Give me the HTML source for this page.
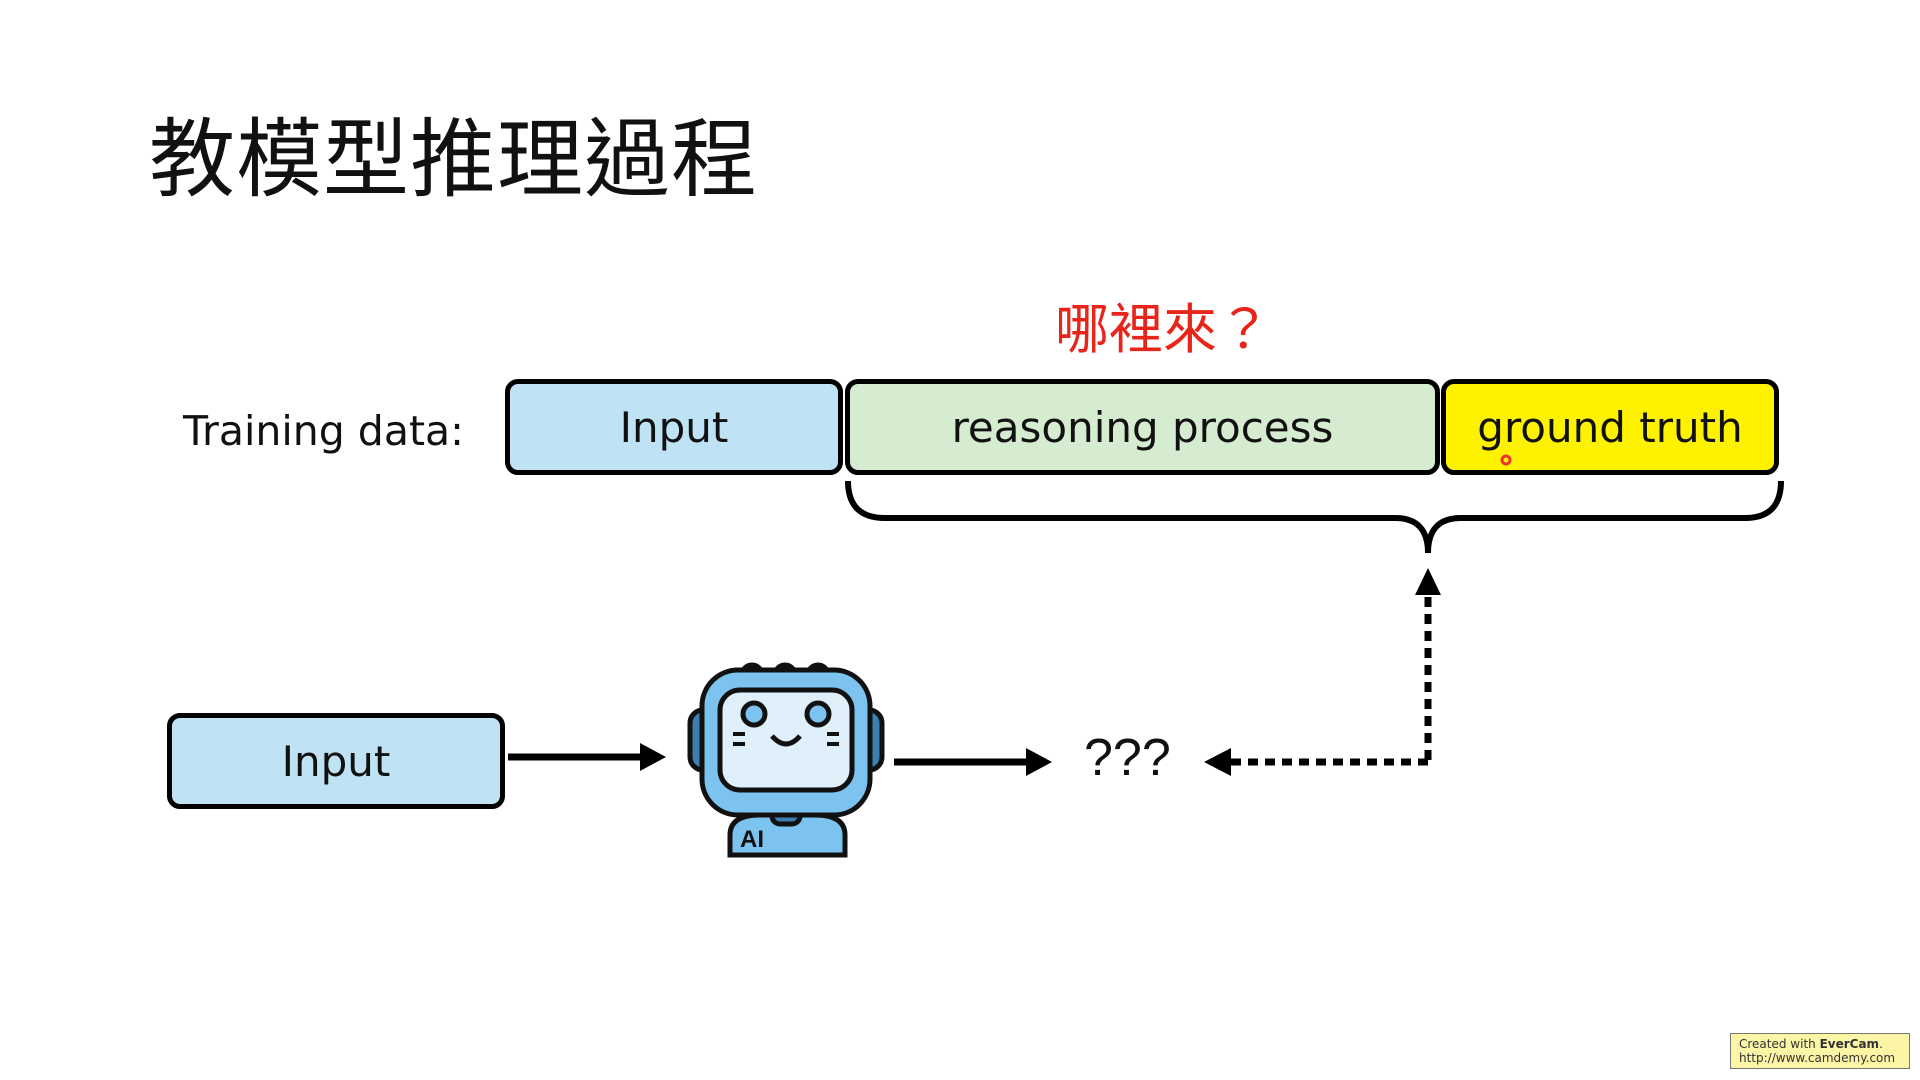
<!DOCTYPE html>
<html><head><meta charset="utf-8"><style>
body{margin:0;width:1920px;height:1080px;background:#fff;position:relative;overflow:hidden;font-family:"Liberation Sans","Noto Sans CJK TC",sans-serif}
.t{position:absolute;white-space:nowrap}
.box{position:absolute;box-sizing:border-box;border:5px solid #000;border-radius:13px;display:flex;align-items:center;justify-content:center;font-size:42px;color:#111;font-family:"DejaVu Sans","Liberation Sans",sans-serif}
</style></head><body>
<div class="t" style="left:149px;top:89px;font-size:86px;font-family:'Noto Sans CJK TC',sans-serif;color:#111;letter-spacing:1px">教模型推理過程</div>
<div class="t" style="left:1055px;top:285px;font-size:54px;font-family:'Noto Sans CJK TC',sans-serif;color:#e8251a">哪裡來？</div>
<div class="t" style="left:183px;top:407px;font-size:41px;color:#111;font-family:'DejaVu Sans','Liberation Sans',sans-serif">Training data:</div>
<div class="box" style="left:505px;top:379px;width:338px;height:96px;background:#bfe2f5">Input</div>
<div class="box" style="left:845px;top:379px;width:595px;height:96px;background:#d6ecd0">reasoning process</div>
<div class="box" style="left:1441px;top:379px;width:338px;height:96px;background:#fff200">ground truth</div>
<div class="box" style="left:167px;top:713px;width:338px;height:96px;background:#bfe2f5">Input</div>
<div class="t" style="left:1084px;top:728px;font-size:52px;color:#111">???</div>
<svg width="1920" height="1080" style="position:absolute;left:0;top:0">
<circle cx="1506" cy="460" r="4" fill="none" stroke="#e33" stroke-width="3"/>
<path d="M848 481 Q848 518 885 518 L1395 518 Q1428 518 1428 553 Q1428 518 1461 518 L1745 518 Q1781 518 1781 481" fill="none" stroke="#000" stroke-width="6"/>
<line x1="508" y1="757" x2="645" y2="757" stroke="#000" stroke-width="7"/>
<polygon points="640,743 666,757 640,771" fill="#000"/>
<line x1="894" y1="762" x2="1030" y2="762" stroke="#000" stroke-width="7"/>
<polygon points="1026,748 1052,762 1026,776" fill="#000"/>
<line x1="1428" y1="760" x2="1428" y2="590" stroke="#000" stroke-width="7" stroke-dasharray="10,7"/>
<polygon points="1415,595 1428,568 1441,595" fill="#000"/>
<line x1="1428" y1="762" x2="1228" y2="762" stroke="#000" stroke-width="7" stroke-dasharray="10,7"/>
<polygon points="1231,748 1204,762 1231,776" fill="#000"/>
<g stroke="#111" stroke-width="5">
<circle cx="752" cy="675" r="10" fill="#e66"/><circle cx="785" cy="675" r="10" fill="#e66"/><circle cx="818" cy="675" r="10" fill="#e66"/>
<rect x="690" y="710" width="26" height="60" rx="13" fill="#3d7fb0"/><rect x="856" y="710" width="26" height="60" rx="13" fill="#3d7fb0"/>
<path d="M730 855 L730 835 Q730 815 760 815 L815 815 Q845 815 845 835 L845 855 Z" fill="#7cc4ef"/>
<rect x="772" y="800" width="28" height="24" rx="8" fill="#3d7fb0"/>
<rect x="702" y="670" width="168" height="145" rx="36" fill="#7cc4ef"/>
<rect x="720" y="690" width="132" height="100" rx="20" fill="#dff0fb"/>
<circle cx="754" cy="714" r="11" fill="#7cc4ef"/><circle cx="818" cy="714" r="11" fill="#7cc4ef"/>
<path d="M772 736 Q786 752 800 736" fill="none"/>
<path d="M733 734h12M733 744h12M827 734h12M827 744h12" fill="none" stroke-width="4"/>
</g>
<text x="740" y="847" font-family="Liberation Sans" font-weight="bold" font-size="24" fill="#111">AI</text>
</svg>
<div style="position:absolute;left:1730px;top:1033px;width:180px;height:36px;box-sizing:border-box;background:#fbf5a5;border:1px solid #777;font-family:'DejaVu Sans',sans-serif;font-size:12px;line-height:14px;padding:3px 8px;color:#333">Created with <b>EverCam</b>.<br>http://www.camdemy.com</div>
</body></html>
